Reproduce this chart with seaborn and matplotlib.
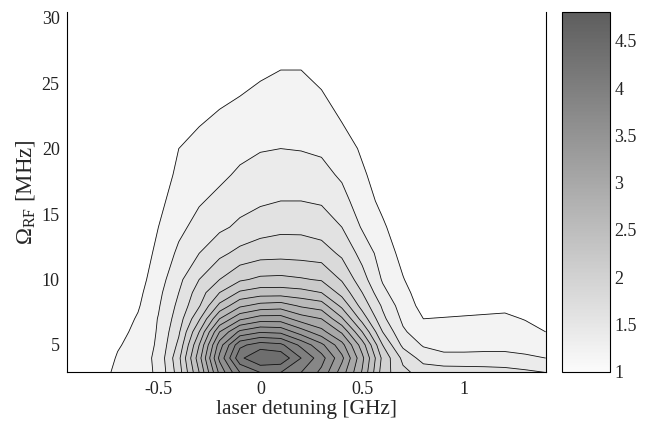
import numpy as np
import matplotlib
matplotlib.use("Agg")
import matplotlib.pyplot as plt
from matplotlib.cm import ScalarMappable
from matplotlib.colors import Normalize
import seaborn as sns

# laser detuning (GHz) of each column, Rabi frequency (MHz) of each row
detuning = [-1.0, -0.8, -0.7, -0.6, -0.5, -0.4, -0.3, -0.2, -0.1, 0.0, 0.1, 0.2,
            0.3, 0.4, 0.5, 0.6, 0.7, 0.8, 0.9, 1.0, 1.1, 1.2, 1.3, 1.4]
rabi = [2.9, 4, 5, 6, 7, 8, 9, 10, 12, 14, 16, 18, 20, 22, 24, 26, 28, 30.5]

# signal, one list per detuning column (bottom -> top)
signal_cols = [
    [1.0] * 18,
    [1.1, 1.05, 1.02, 1.01] + [1.0] * 14,
    [1.25, 1.22, 1.18, 1.14, 1.1, 1.07, 1.05, 1.03] + [1.0] * 10,
    [1.32, 1.3, 1.28, 1.25, 1.22, 1.18, 1.15, 1.12, 1.08, 1.05, 1.03, 1.01] + [1.0] * 6,
    [1.43, 1.45, 1.43, 1.42, 1.41, 1.38, 1.35, 1.31, 1.25, 1.2, 1.15, 1.1, 1.06, 1.03, 1.01, 1.0, 1.0, 1.0],
    [1.9, 1.95, 1.85, 1.77, 1.7, 1.65, 1.6, 1.55, 1.44, 1.35, 1.29, 1.24, 1.2, 1.14, 1.09, 1.05, 1.02, 1.0],
    [2.6, 2.72, 2.6, 2.4, 2.17, 1.98, 1.9, 1.8, 1.6, 1.47, 1.38, 1.3, 1.25, 1.19, 1.13, 1.08, 1.03, 1.0],
    [3.45, 3.65, 3.5, 3.2, 2.8, 2.45, 2.2, 2.0, 1.75, 1.56, 1.45, 1.36, 1.29, 1.23, 1.17, 1.1, 1.05, 1.0],
    [4.0, 4.35, 4.15, 3.65, 3.16, 2.76, 2.43, 2.17, 1.86, 1.64, 1.53, 1.43, 1.35, 1.28, 1.2, 1.13, 1.07, 1.01],
    [4.2, 4.6, 4.3, 3.78, 3.3, 2.87, 2.5, 2.24, 1.92, 1.71, 1.57, 1.46, 1.39, 1.31, 1.24, 1.17, 1.1, 1.02],
    [4.2, 4.55, 4.25, 3.75, 3.3, 2.9, 2.5, 2.25, 1.93, 1.75, 1.6, 1.49, 1.4, 1.33, 1.27, 1.2, 1.12, 1.03],
    [4.0, 4.2, 3.95, 3.5, 3.1, 2.77, 2.47, 2.22, 1.92, 1.75, 1.6, 1.5, 1.39, 1.33, 1.27, 1.2, 1.12, 1.03],
    [3.75, 3.88, 3.65, 3.27, 3.0, 2.7, 2.4, 2.18, 1.9, 1.7, 1.58, 1.46, 1.37, 1.3, 1.22, 1.14, 1.07, 1.0],
    [3.3, 3.45, 3.27, 2.97, 2.63, 2.35, 2.13, 1.98, 1.76, 1.6, 1.47, 1.37, 1.3, 1.2, 1.12, 1.06, 1.02, 1.0],
    [2.78, 2.85, 2.7, 2.4, 2.12, 1.92, 1.8, 1.68, 1.53, 1.38, 1.29, 1.23, 1.17, 1.11, 1.06, 1.03, 1.0, 1.0],
    [2.1, 2.15, 2.0, 1.8, 1.65, 1.57, 1.45, 1.38, 1.31, 1.23, 1.15, 1.1, 1.05, 1.02, 1.0, 1.0, 1.0, 1.0],
    [1.85, 1.75, 1.55, 1.43, 1.36, 1.3, 1.26, 1.21, 1.14, 1.08, 1.04, 1.02] + [1.0] * 6,
    [1.72, 1.52, 1.38, 1.28, 1.2, 1.14, 1.1, 1.07, 1.03] + [1.0] * 9,
    [1.72, 1.45, 1.34, 1.27, 1.21, 1.12, 1.07, 1.04, 1.01] + [1.0] * 9,
    [1.71, 1.45, 1.34, 1.28, 1.22, 1.13, 1.07, 1.04, 1.01] + [1.0] * 9,
    [1.7, 1.45, 1.35, 1.29, 1.23, 1.14, 1.08, 1.04, 1.01] + [1.0] * 9,
    [1.68, 1.45, 1.35, 1.3, 1.24, 1.15, 1.08, 1.04, 1.01] + [1.0] * 9,
    [1.64, 1.43, 1.33, 1.27, 1.19, 1.12, 1.06, 1.03] + [1.0] * 10,
    [1.6, 1.4, 1.3, 1.2, 1.14, 1.09, 1.05, 1.02] + [1.0] * 10,
]

contour_levels = [1.2, 1.4, 1.6, 1.8, 2.0, 2.2, 2.4, 2.6, 2.8, 3.0, 3.2,
                  3.4, 3.6, 3.8, 4.0, 4.2, 4.4]
cbar_ticks = [1, 1.5, 2, 2.5, 3, 3.5, 4, 4.5]
x_ticks = [-0.5, 0, 0.5, 1]
y_ticks = [5, 10, 15, 20, 25, 30]

sns.set_style("white")
plt.rcParams["font.family"] = ["Liberation Serif", "DejaVu Serif"]
plt.rcParams["mathtext.fontset"] = "custom"
plt.rcParams["mathtext.rm"] = "Liberation Serif"
plt.rcParams["mathtext.it"] = "Liberation Serif:italic"

Z = np.array(signal_cols).T
X, Y = np.meshgrid(detuning, rabi)

cmap = sns.blend_palette(["#fbfbfb", "#5e5e5e"], as_cmap=True)
norm = Normalize(vmin=1.0, vmax=4.8)
# matlab style: each band takes the colour of its lower level
fill_levels = [0.5] + contour_levels + [6.0]
band_colors = ["#ffffff"] + [cmap(norm(v)) for v in contour_levels]

fig = plt.figure(figsize=(6.55, 4.22), dpi=100)
ax = fig.add_axes([0.1018, 0.1192, 0.7313, 0.8514])
cax = fig.add_axes([0.8585, 0.1192, 0.0728, 0.8514])

ax.contourf(X, Y, Z, levels=fill_levels, colors=band_colors)
ax.contour(X, Y, Z, levels=contour_levels, colors="#111111", linewidths=0.6)

ax.set_xlim(-0.95, 1.40)
ax.set_ylim(2.96, 30.4)
ax.set_xticks(x_ticks)
ax.set_xticklabels(["-0.5", "0", "0.5", "1"])
ax.set_yticks(y_ticks)
ax.tick_params(length=0, labelsize=13, colors="#222222")
ax.tick_params(axis="x", pad=7)
ax.tick_params(axis="y", pad=5)
for side in ["left", "bottom", "right"]:
    ax.spines[side].set_visible(True)
    ax.spines[side].set_color("black")
    ax.spines[side].set_linewidth(0.8)
ax.spines["top"].set_visible(False)
ax.set_xlabel("laser detuning [GHz]", fontsize=15.5, labelpad=1)
ax.set_ylabel(r"$\Omega_{\mathrm{RF}}$ [MHz]", fontsize=16.5, labelpad=3)

sm = ScalarMappable(norm=norm, cmap=cmap)
cb = fig.colorbar(sm, cax=cax, ticks=cbar_ticks)
cb.ax.set_yticklabels(["1", "1.5", "2", "2.5", "3", "3.5", "4", "4.5"])
cb.ax.tick_params(direction="in", length=4, width=0.7, labelsize=13, pad=3)
cb.outline.set_linewidth(0.8)
cb.outline.set_edgecolor("black")

fig.savefig("out.png", dpi=100)
